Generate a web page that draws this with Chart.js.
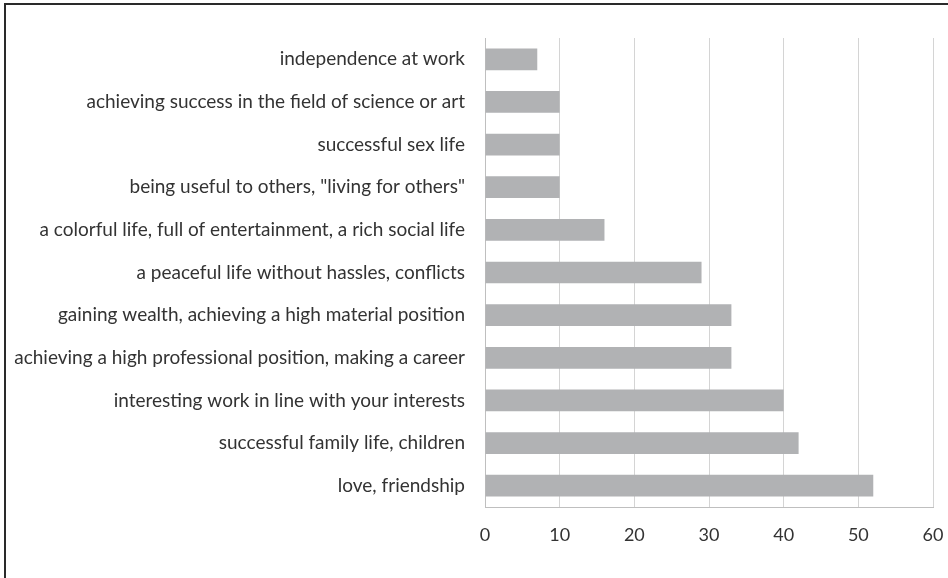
<!DOCTYPE html>
<html>
<head>
<meta charset="utf-8">
<script src="https://cdn.jsdelivr.net/npm/chart.js@4/dist/chart.umd.min.js"></script>
<style>
  html, body { margin: 0; padding: 0; background: #fff; }
  #wrap { position: relative; width: 948px; height: 578px; }
</style>
</head>
<body>
<div id="wrap"><canvas id="c" width="948" height="578"></canvas></div>
<script>
const categories = [
  'independence at work',
  'achieving success in the field of science or art',
  'successful sex life',
  'being useful to others, "living for others"',
  'a colorful life, full of entertainment, a rich social life',
  'a peaceful life without hassles, conflicts',
  'gaining wealth, achieving a high material position',
  'achieving a high professional position, making a career',
  'interesting work in line with your interests',
  'successful family life, children',
  'love, friendship'
];
const values = [7, 10, 10, 10, 16, 29, 33, 33, 40, 42, 52];
const xMin = 0, xMax = 60, xStep = 10;

const framePlugin = {
  id: 'frame',
  beforeDraw(chart) {
    const ctx = chart.ctx;
    ctx.save();
    ctx.fillStyle = '#fff';
    ctx.fillRect(0, 0, chart.width, chart.height);
    ctx.strokeStyle = '#2a2a2a';
    ctx.lineWidth = 2;
    ctx.beginPath();
    ctx.moveTo(5, chart.height);
    ctx.lineTo(5, 4);
    ctx.lineTo(chart.width, 4);
    ctx.stroke();
    ctx.restore();
  }
};

new Chart(document.getElementById('c'), {
  type: 'bar',
  data: {
    labels: categories,
    datasets: [{
      data: values,
      backgroundColor: '#b1b2b4',
      borderWidth: 0,
      categoryPercentage: 1.0,
      barPercentage: 0.51
    }]
  },
  options: {
    indexAxis: 'y',
    responsive: false,
    animation: false,
    devicePixelRatio: 1,
    layout: { padding: { left: 0, top: 38, right: 15, bottom: 0 } },
    plugins: { legend: { display: false }, tooltip: { enabled: false } },
    scales: {
      x: {
        min: xMin, max: xMax,
        ticks: { stepSize: xStep, color: '#333333', padding: 17, font: { family: 'Lato', size: 18 } },
        grid: { color: '#d4d4d4', lineWidth: 1, drawTicks: false },
        border: { display: true, color: '#bfbfbf', width: 1 },
        afterFit(s) { s.height = 71; s.paddingLeft = 0; s.paddingRight = 0; }
      },
      y: {
        ticks: { color: '#333333', padding: 20, font: { family: 'Lato', size: 19 } },
        grid: { display: false, drawTicks: false },
        border: { display: true, color: '#bfbfbf', width: 1 },
        afterFit(s) { s.width = 485; s.paddingTop = 0; s.paddingBottom = 0; }
      }
    }
  },
  plugins: [framePlugin]
});
</script>
</body>
</html>
